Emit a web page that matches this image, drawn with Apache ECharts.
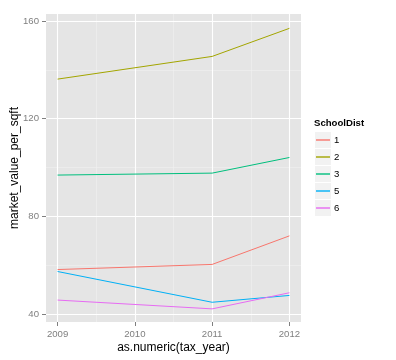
<!DOCTYPE html>
<html>
<head>
<meta charset="utf-8">
<script src="https://cdn.jsdelivr.net/npm/echarts@6/dist/echarts.min.js"></script>
<style>
html,body{margin:0;padding:0;background:#fff;}
#chart{width:396px;height:360px;}
</style>
</head>
<body>
<div id="chart"></div>
<script>
const years = [2009, 2011, 2012];
const seriesNames = ['1', '2', '3', '5', '6'];
const dist1 = [58.2, 60.3, 72.0];
const dist2 = [136.2, 145.5, 157.0];
const dist3 = [96.9, 97.7, 104.1];
const dist5 = [57.4, 44.8, 47.6];
const dist6 = [45.7, 42.1, 48.7];
const colors = ['#F8766D', '#A3A500', '#00BF7D', '#00B0F6', '#E76BF3'];
const xTicks = [2009, 2010, 2011, 2012];
const yTicks = [40, 80, 120, 160];
const xMinor = [2009.5, 2010.5, 2011.5];
const yMinor = [60, 100, 140];

const values = [dist1, dist2, dist3, dist5, dist6];
const FONT = 'Liberation Sans, Arial, sans-serif';

const chart = echarts.init(document.getElementById('chart'), null, {renderer: 'canvas'});

const dataSeries = seriesNames.map((n, i) => ({
  name: n,
  type: 'line',
  data: years.map((y, j) => [y, values[i][j]]),
  symbol: 'none',
  lineStyle: {color: colors[i], width: 1},
  itemStyle: {color: colors[i]},
  z: 5,
  silent: true
}));

function gridSeries(name, xs, ys, color, width, z) {
  return {
    name: name,
    type: 'line',
    data: [],
    z: z,
    silent: true,
    markLine: {
      silent: true,
      symbol: ['none', 'none'],
      label: {show: false},
      animation: false,
      lineStyle: {color: color, width: width, type: 'solid'},
      emphasis: {disabled: true},
      data: ys.map(v => ({yAxis: v})).concat(xs.map(v => ({xAxis: v})))
    }
  };
}

const option = {
  animation: false,
  backgroundColor: '#ffffff',
  textStyle: {fontFamily: FONT},
  title: {
    text: 'SchoolDist',
    left: 314,
    top: 118,
    padding: 0,
    textStyle: {fontFamily: FONT, fontSize: 9.6, fontWeight: 'bold', color: '#000'}
  },
  legend: [
    {
      orient: 'vertical',
      left: 315,
      top: 132,
      padding: 0,
      itemWidth: 16,
      itemHeight: 16,
      itemGap: 1,
      selectedMode: false,
      icon: 'rect',
      itemStyle: {color: '#F2F2F2', borderWidth: 0},
      textStyle: {fontFamily: FONT, fontSize: 9.6, color: '#000', lineHeight: 16, padding: [0, 0, 0, -2]},
      data: seriesNames
    },
    {
      orient: 'vertical',
      left: 316,
      top: 132,
      padding: 0,
      itemWidth: 14,
      itemHeight: 1.4,
      itemGap: 1,
      selectedMode: false,
      icon: 'rect',
      z: 10,
      itemStyle: {borderWidth: 0},
      textStyle: {fontFamily: FONT, fontSize: 9.6, lineHeight: 16, color: 'rgba(0,0,0,0)'},
      data: seriesNames
    }
  ],
  grid: {
    left: 46,
    right: 95,
    top: 14,
    bottom: 38,
    show: true,
    backgroundColor: '#E5E5E5',
    borderWidth: 0,
    containLabel: false,
    outerBoundsMode: 'none'
  },
  xAxis: {
    type: 'value',
    min: 2008.85,
    max: 2012.15,
    name: 'as.numeric(tax_year)',
    nameLocation: 'middle',
    nameGap: 20,
    nameMoveOverlap: false,
    nameTextStyle: {fontFamily: FONT, fontSize: 12, color: '#000'},
    axisLine: {show: false},
    axisTick: {show: true, customValues: xTicks, length: 4, lineStyle: {color: '#7F7F7F', width: 1}},
    axisLabel: {customValues: xTicks, color: '#7F7F7F', fontSize: 9.6, fontFamily: FONT, margin: 7, formatter: v => String(Math.round(v))},
    splitLine: {show: false}
  },
  yAxis: {
    type: 'value',
    min: 36.72,
    max: 162.87,
    name: 'market_value_per_sqft',
    nameLocation: 'middle',
    nameGap: 25,
    nameMoveOverlap: false,
    nameTextStyle: {fontFamily: FONT, fontSize: 12, color: '#000'},
    axisLine: {show: false},
    axisTick: {show: true, customValues: yTicks, length: 4, lineStyle: {color: '#7F7F7F', width: 1}},
    axisLabel: {customValues: yTicks, color: '#7F7F7F', fontSize: 9.6, fontFamily: FONT, margin: 7},
    splitLine: {show: false}
  },
  series: [
    gridSeries('minorGrid', xMinor, yMinor, '#F2F2F2', 0.5, 1),
    gridSeries('majorGrid', xTicks, yTicks, '#FFFFFF', 1.1, 2)
  ].concat(dataSeries)
};

chart.setOption(option);
</script>
</body>
</html>
